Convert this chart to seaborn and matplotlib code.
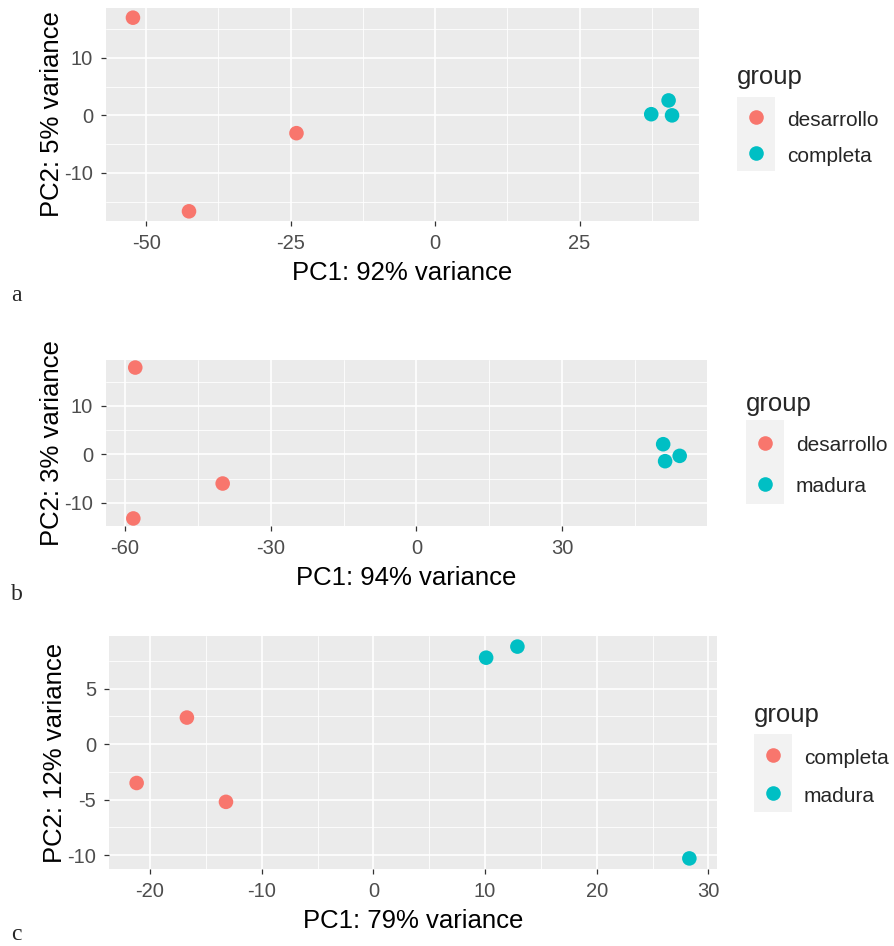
import numpy as np
import pandas as pd
import matplotlib
matplotlib.use("Agg")
import matplotlib.pyplot as plt
from matplotlib.lines import Line2D
from matplotlib.patches import Rectangle
from matplotlib.ticker import FixedLocator
import seaborn as sns

sns.set_theme(style="white")
plt.rcParams['font.family'] = ['Liberation Sans', 'DejaVu Sans']
plt.rcParams['axes.unicode_minus'] = False

# ---------------- data ----------------
a_pc1 = [-52.3, -24.0, -42.6, 37.4, 40.4, 41.0]
a_pc2 = [17.0, -3.1, -16.7, 0.2, 2.6, 0.0]
a_group = ['desarrollo', 'desarrollo', 'desarrollo', 'completa', 'completa', 'completa']
a_levels = ['desarrollo', 'completa']
a_xlabel = 'PC1: 92% variance'
a_ylabel = 'PC2: 5% variance'
a_xticks = [-50, -25, 0, 25]
a_yticks = [-10, 0, 10]

b_pc1 = [-57.9, -39.9, -58.3, 50.8, 51.2, 54.2]
b_pc2 = [17.9, -6.0, -13.2, 2.1, -1.4, -0.3]
b_group = ['desarrollo', 'desarrollo', 'desarrollo', 'madura', 'madura', 'madura']
b_levels = ['desarrollo', 'madura']
b_xlabel = 'PC1: 94% variance'
b_ylabel = 'PC2: 3% variance'
b_xticks = [-60, -30, 0, 30]
b_yticks = [-10, 0, 10]

c_pc1 = [-21.2, -16.7, -13.2, 10.1, 12.9, 28.3]
c_pc2 = [-3.5, 2.4, -5.2, 7.8, 8.8, -10.3]
c_group = ['completa', 'completa', 'completa', 'madura', 'madura', 'madura']
c_levels = ['completa', 'madura']
c_xlabel = 'PC1: 79% variance'
c_ylabel = 'PC2: 12% variance'
c_xticks = [-20, -10, 0, 10, 20, 30]
c_yticks = [-10, -5, 0, 5]

panel_letters = ['a', 'b', 'c']
palette = ['#F8766D', '#00BFC4']

# ---------------- layout ----------------
W, H = 895, 946
fig = plt.figure(figsize=(W / 100, H / 100), dpi=100)

def px_rect(l, t, r, b):
    return [l / W, (H - b) / H, (r - l) / W, (b - t) / H]

panels = [
    dict(rect=px_rect(106, 8, 699, 221), x=a_pc1, y=a_pc2, g=a_group, lev=a_levels,
         xl=a_xlabel, yl=a_ylabel, xt=a_xticks, yt=a_yticks,
         leg_title_xy=(737, 65), bp=0.62, ls=0.68, extra=3.8, letter_xy=(11, 301)),
    dict(rect=px_rect(106, 360, 707, 526), x=b_pc1, y=b_pc2, g=b_group, lev=b_levels,
         xl=b_xlabel, yl=b_ylabel, xt=b_xticks, yt=b_yticks,
         leg_title_xy=(746, 392), bp=0.53, ls=0.92, extra=-1.0, letter_xy=(11, 600)),
    dict(rect=px_rect(109, 636, 717, 869), x=c_pc1, y=c_pc2, g=c_group, lev=c_levels,
         xl=c_xlabel, yl=c_ylabel, xt=c_xticks, yt=c_yticks,
         leg_title_xy=(754, 703), bp=0.62, ls=0.78, extra=2.2, letter_xy=(11, 940)),
]

FS_LEG = 15

legends = []
for i, p in enumerate(panels):
    ax = fig.add_axes(p['rect'])
    df = pd.DataFrame({'PC1': p['x'], 'PC2': p['y'], 'group': p['g']})
    sns.scatterplot(data=df, x='PC1', y='PC2', hue='group', hue_order=p['lev'],
                    palette=palette, s=110, linewidth=0, edgecolor='none',
                    legend=False, ax=ax, zorder=3)
    # ggplot-like 5% expansion
    xmin, xmax = min(p['x']), max(p['x'])
    ymin, ymax = min(p['y']), max(p['y'])
    dx, dy = (xmax - xmin) * 0.05, (ymax - ymin) * 0.05
    ax.set_xlim(xmin - dx, xmax + dx)
    ax.set_ylim(ymin - dy, ymax + dy)

    ax.set_facecolor('#EBEBEB')
    for s in ax.spines.values():
        s.set_visible(False)
    ax.set_xticks(p['xt'])
    ax.set_yticks(p['yt'])
    xt = p['xt']; yt = p['yt']
    xstep = xt[1] - xt[0]; ystep = yt[1] - yt[0]
    xminor = [v + xstep / 2 for v in [xt[0] - xstep] + xt]
    yminor = [v + ystep / 2 for v in [yt[0] - ystep] + yt]
    ax.xaxis.set_minor_locator(FixedLocator(xminor))
    ax.yaxis.set_minor_locator(FixedLocator(yminor))
    ax.grid(True, which='major', color='white', linewidth=1.2)
    ax.grid(True, which='minor', color='white', linewidth=0.6)
    ax.set_axisbelow(True)
    ax.tick_params(axis='both', which='major', length=3.8, width=0.9, color='#333333',
                   pad=5.5, labelsize=14.5, labelcolor='#4D4D4D',
                   bottom=True, left=True)
    ax.tick_params(axis='both', which='minor', length=0)
    ax.set_xlabel(p['xl'], fontsize=18.5, color='black', labelpad=5.5)
    ax.set_ylabel(p['yl'], fontsize=18.5, color='black', labelpad=0.5)

    handles = [Line2D([], [], linestyle='none', marker='o', markersize=10.5,
                      markerfacecolor=c, markeredgewidth=0) for c in palette]
    lx, ly = p['leg_title_xy']
    pad_px = p['bp'] * FS_LEG * 100 / 72
    leg = fig.legend(handles, p['lev'], title='group', loc='upper left',
                     bbox_to_anchor=((lx - pad_px) / W, 1 - (ly - pad_px) / H),
                     frameon=False, borderpad=p['bp'], borderaxespad=0,
                     handlelength=1.8, handleheight=1.2, handletextpad=0.6,
                     labelspacing=p['ls'], fontsize=FS_LEG, title_fontsize=18.5,
                     alignment='left')
    # extra gap between title and keys (points)
    leg._legend_box.sep = p['ls'] * FS_LEG + p['extra']
    legends.append(leg)

    lx2, ly2 = p['letter_xy']
    fig.text(lx2 / W, 1 - ly2 / H, panel_letters[i], fontsize=17,
             family=['Liberation Serif', 'DejaVu Serif'], ha='left', va='baseline')

# gray key backgrounds behind legend handles
fig.canvas.draw()
for leg in legends:
    bbs = [h.get_window_extent() for h in leg.legend_handles]
    cx = np.mean([(b.x0 + b.x1) / 2 for b in bbs])
    cys = [(b.y0 + b.y1) / 2 for b in bbs]
    step = abs(cys[0] - cys[1])
    top = max(cys) + step / 2 + 2
    bot = min(cys) - step / 2
    half = 19
    rect = Rectangle((cx - half, bot), 2 * half, top - bot, transform=None,
                     facecolor='#F2F2F2', edgecolor='none', zorder=-1)
    fig.patches.append(rect)

fig.savefig('out.png', dpi=100)
